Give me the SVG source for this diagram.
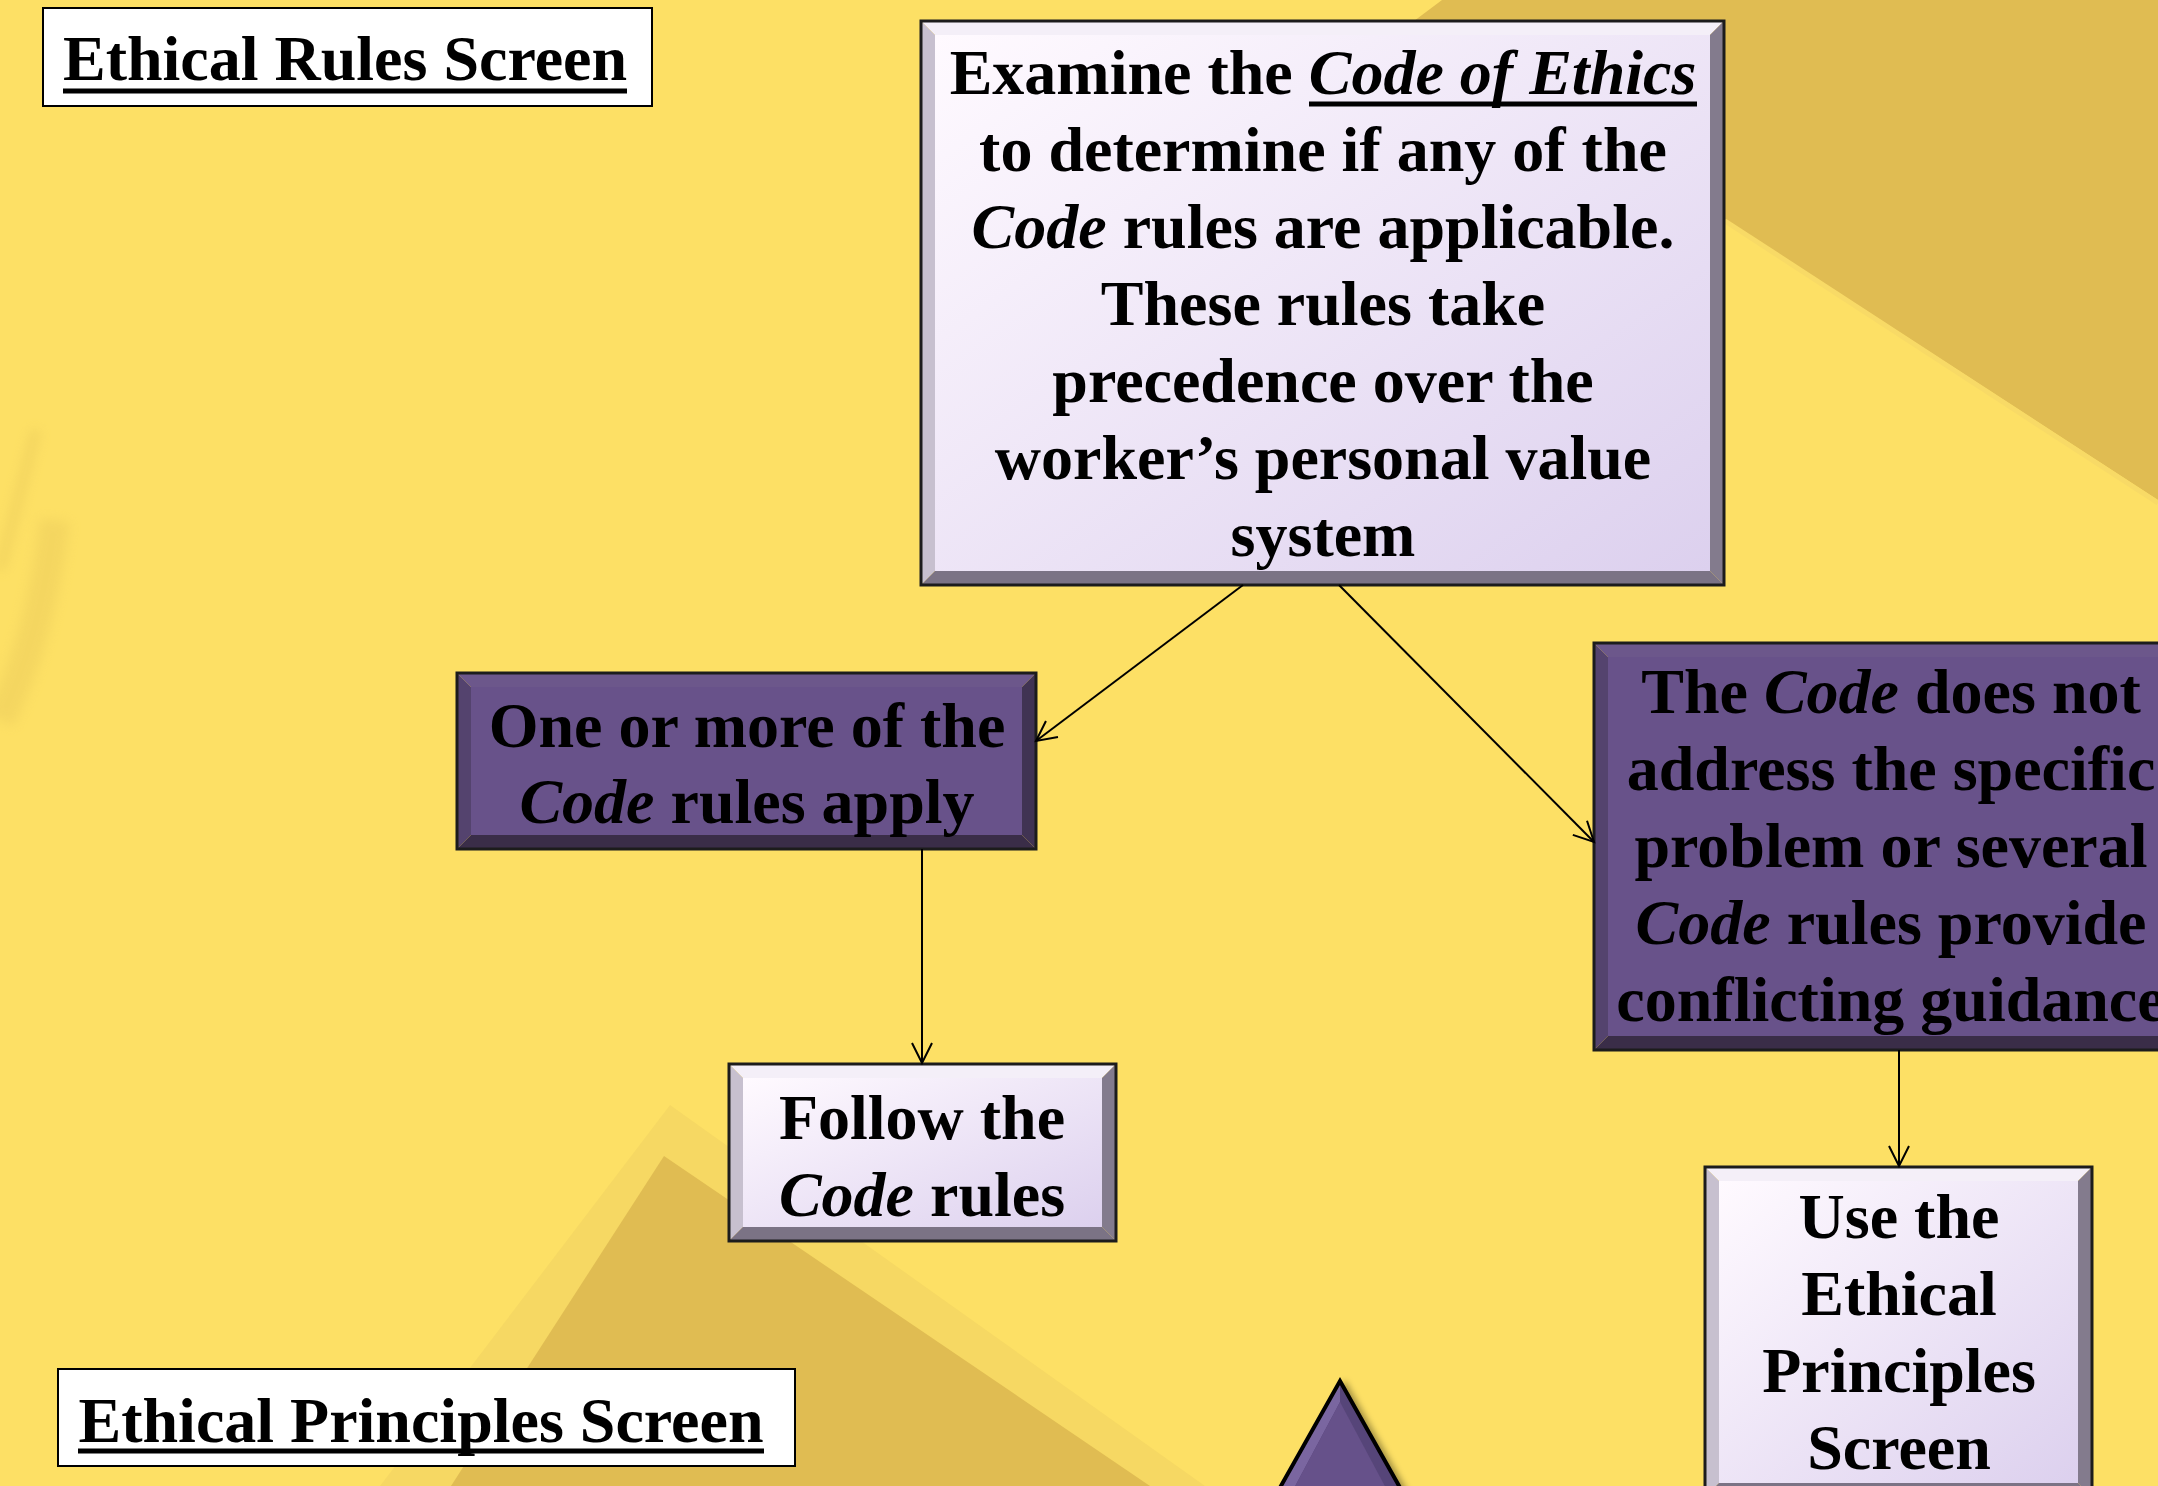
<svg xmlns="http://www.w3.org/2000/svg" width="2158" height="1486" viewBox="0 0 2158 1486">
<style>
.t{font-family:"Liberation Serif","Times New Roman",serif;font-weight:bold;font-size:64px;fill:#000;text-anchor:middle}
.i{font-style:italic}
.ul{stroke:#000;stroke-width:5}
.lt{fill:#F4EFF8}.ll{fill:#C7C0CF}.lr{fill:#837B8D}.lb{fill:#7B7385}.lf{fill:url(#lg)}
.pt{fill:#6C578B}.pl{fill:#54436E}.pr{fill:#403353}.pb{fill:#3A2D48}.pf{fill:#68528A}
.bd{fill:none;stroke:#1c1c1c;stroke-width:3}
.cn{stroke:#000;stroke-width:2;fill:none;marker-end:url(#ah)}
</style>
<defs>
<linearGradient id="lg" x1="0" y1="0" x2="1" y2="1">
<stop offset="0" stop-color="#FFFAFF"/>
<stop offset="1" stop-color="#DCD0EE"/>
</linearGradient>
<marker id="ah" markerUnits="userSpaceOnUse" markerWidth="26" markerHeight="26" viewBox="0 0 26 26" refX="23" refY="13" orient="auto">
<path d="M3,3 L23,13 L3,23" fill="none" stroke="#000" stroke-width="2"/>
</marker>
<filter id="sh" x="-20%" y="-20%" width="140%" height="140%">
<feDropShadow dx="5" dy="3" stdDeviation="3" flood-color="#000" flood-opacity="0.35"/>
</filter>
<filter id="bl" x="-50%" y="-50%" width="200%" height="200%">
<feGaussianBlur stdDeviation="6"/>
</filter>
</defs>

<g id="background">
<rect x="0" y="0" width="2158" height="1486" fill="#FDE065"/>
<polygon points="1442,0 2158,0 2158,500 1725,219 1410,24" fill="#E0BC52"/>
<line x1="1725" y1="221" x2="2158" y2="503" stroke="#F8DA66" stroke-width="5"/>
<polygon points="670,1105 1205,1486 380,1486" fill="#F6D863"/>
<polygon points="664,1156 1150,1486 451,1486" fill="#E0BC52"/>
<g filter="url(#bl)" opacity="0.45">
<path d="M36,430 Q18,500 0,570" stroke="#E6C658" stroke-width="10" fill="none"/>
<path d="M55,520 Q40,640 0,720" stroke="#EACB5C" stroke-width="30" fill="none"/>
</g>
</g>

<g id="title-rules">
<rect x="43" y="8" width="609" height="98" fill="#fff" stroke="#000" stroke-width="2"/>
<text class="t" x="345" y="80">Ethical Rules Screen</text>
<line class="ul" x1="63" y1="91" x2="627" y2="91"/>
</g>

<g id="title-principles">
<rect x="58" y="1369" width="737" height="97" fill="#fff" stroke="#000" stroke-width="2"/>
<text class="t" x="421" y="1442">Ethical Principles Screen</text>
<line class="ul" x1="78" y1="1451" x2="764" y2="1451"/>
</g>

<g id="examine">
<polygon class="lt" points="921,21 1724,21 1710,35 935,35"/>
<polygon class="ll" points="921,21 935,35 935,571 921,585"/>
<polygon class="lr" points="1724,21 1724,585 1710,571 1710,35"/>
<polygon class="lb" points="921,585 1724,585 1710,571 935,571"/>
<rect class="lf" x="935" y="35" width="775" height="536"/>
<rect class="bd" x="921" y="21" width="803" height="564"/>
<text class="t" x="1323" y="94">Examine the <tspan class="i">Code of Ethics</tspan></text>
<line class="ul" x1="1309" y1="104" x2="1697" y2="104"/>
<text class="t" x="1323" y="171">to determine if any of the</text>
<text class="t" x="1323" y="248"><tspan class="i">Code</tspan> rules are applicable.</text>
<text class="t" x="1323" y="325">These rules take</text>
<text class="t" x="1323" y="402">precedence over the</text>
<text class="t" x="1323" y="479">worker’s personal value</text>
<text class="t" x="1323" y="556">system</text>
</g>

<g id="apply">
<polygon class="pt" points="457,673 1036,673 1022,687 471,687"/>
<polygon class="pl" points="457,673 471,687 471,835 457,849"/>
<polygon class="pr" points="1036,673 1036,849 1022,835 1022,687"/>
<polygon class="pb" points="457,849 1036,849 1022,835 471,835"/>
<rect class="pf" x="471" y="687" width="551" height="148"/>
<rect class="bd" x="457" y="673" width="579" height="176"/>
<text class="t" x="747" y="747">One or more of the</text>
<text class="t" x="747" y="823"><tspan class="i">Code</tspan> rules apply</text>
</g>

<g id="not-address">
<polygon class="pt" points="1594,643 2190,643 2176,657 1608,657"/>
<polygon class="pl" points="1594,643 1608,657 1608,1036 1594,1050"/>
<polygon class="pr" points="2190,643 2190,1050 2176,1036 2176,657"/>
<polygon class="pb" points="1594,1050 2190,1050 2176,1036 1608,1036"/>
<rect class="pf" x="1608" y="657" width="568" height="379"/>
<rect class="bd" x="1594" y="643" width="596" height="407"/>
<text class="t" x="1891" y="713">The <tspan class="i">Code</tspan> does not</text>
<text class="t" x="1891" y="790">address the specific</text>
<text class="t" x="1891" y="867">problem or several</text>
<text class="t" x="1891" y="944"><tspan class="i">Code</tspan> rules provide</text>
<text class="t" x="1891" y="1021">conflicting guidance</text>
</g>

<g id="follow">
<polygon class="lt" points="729,1064 1116,1064 1102,1078 743,1078"/>
<polygon class="ll" points="729,1064 743,1078 743,1227 729,1241"/>
<polygon class="lr" points="1116,1064 1116,1241 1102,1227 1102,1078"/>
<polygon class="lb" points="729,1241 1116,1241 1102,1227 743,1227"/>
<rect class="lf" x="743" y="1078" width="359" height="149"/>
<rect class="bd" x="729" y="1064" width="387" height="177"/>
<text class="t" x="922" y="1139">Follow the</text>
<text class="t" x="922" y="1216"><tspan class="i">Code</tspan> rules</text>
</g>

<g id="use-principles">
<polygon class="lt" points="1705,1167 2092,1167 2078,1181 1719,1181"/>
<polygon class="ll" points="1705,1167 1719,1181 1719,1483 1705,1497"/>
<polygon class="lr" points="2092,1167 2092,1497 2078,1483 2078,1181"/>
<polygon class="lb" points="1705,1497 2092,1497 2078,1483 1719,1483"/>
<rect class="lf" x="1719" y="1181" width="359" height="302"/>
<rect class="bd" x="1705" y="1167" width="387" height="330"/>
<text class="t" x="1899" y="1238">Use the</text>
<text class="t" x="1899" y="1315">Ethical</text>
<text class="t" x="1899" y="1392">Principles</text>
<text class="t" x="1899" y="1469">Screen</text>
</g>

<g id="triangle" filter="url(#sh)">
<polygon points="1340,1381 1470,1612 1210,1612" fill="#574579"/>
<polygon points="1340,1381 1340,1402 1228,1612 1210,1612" fill="#7A66A0"/>
<polygon points="1340,1402 1452,1612 1228,1612" fill="#66518A"/>
<polygon points="1340,1381 1470,1612 1210,1612" fill="none" stroke="#000" stroke-width="4" stroke-linejoin="miter"/>
</g>

<g id="connectors">
<line class="cn" x1="1243" y1="585" x2="1036" y2="741"/>
<line class="cn" x1="1339" y1="585" x2="1594" y2="842"/>
<line class="cn" x1="922" y1="849" x2="922" y2="1063"/>
<line class="cn" x1="1899" y1="1050" x2="1899" y2="1166"/>
</g>
</svg>
